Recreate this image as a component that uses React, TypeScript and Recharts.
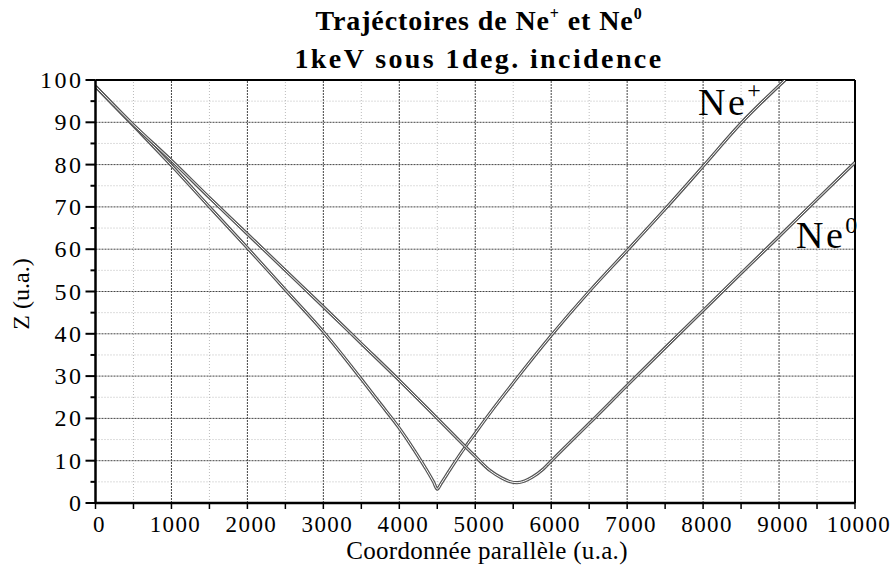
import React from "react";
import { LineChart, Line, XAxis, YAxis, ReferenceLine } from "recharts";

// Ne+ trajectory
const NE_PLUS_X = [0, 500, 1000, 1500, 2000, 2500, 3000, 3500, 3750, 4000, 4200, 4350, 4450, 4500, 4550, 4650, 4800, 5000, 5250, 5500, 6000, 6500, 7000, 7500, 8000, 8500, 9080];
const NE_PLUS_Z = [98.5, 89.2, 79.8, 70.0, 60.3, 50.4, 40.5, 29.3, 23.5, 17.7, 12.4, 8.1, 5.0, 3.3, 4.6, 7.4, 11.5, 16.5, 22.6, 28.4, 39.6, 50.0, 59.7, 69.5, 79.6, 89.8, 100];

// Ne0 trajectory
const NE_ZERO_X = [0, 500, 1000, 1500, 2000, 2500, 3000, 3500, 4000, 4500, 5000, 5200, 5350, 5450, 5550, 5650, 5750, 5900, 6000, 6250, 6500, 7000, 7500, 8000, 8500, 9000, 9500, 10000];
const NE_ZERO_Z = [98.5, 89.4, 81.0, 72.2, 63.6, 55.0, 46.4, 37.7, 29.0, 20.0, 11.0, 7.6, 5.9, 5.1, 4.8, 5.2, 6.1, 8.1, 9.9, 14.4, 18.8, 27.8, 36.7, 45.5, 54.3, 63.0, 71.8, 80.5];

const X_TICKS = [0, 500, 1000, 1500, 2000, 2500, 3000, 3500, 4000, 4500, 5000, 5500, 6000, 6500, 7000, 7500, 8000, 8500, 9000, 9500, 10000];
const Y_TICKS = [0, 5, 10, 15, 20, 25, 30, 35, 40, 45, 50, 55, 60, 65, 70, 75, 80, 85, 90, 95, 100];

const nePlus = NE_PLUS_X.map((x, i) => ({ x, z: NE_PLUS_Z[i] }));
const neZero = NE_ZERO_X.map((x, i) => ({ x, z: NE_ZERO_Z[i] }));

const FONT = '"Liberation Serif", "DejaVu Serif", serif';

const XTick = ({ x, y, payload }: any) => {
  const major = payload.value % 1000 === 0;
  return (
    <g>
      <line x1={x} y1={y} x2={x} y2={y + 6} stroke="#000" strokeWidth={1.5} />
      {major && (
        <text x={x + 4} y={y + 29} textAnchor="middle" style={{ fontSize: 23, fontFamily: FONT, letterSpacing: 1.4 }} fill="#000">
          {payload.value}
        </text>
      )}
    </g>
  );
};

const YTick = ({ x, y, payload }: any) => {
  const major = payload.value % 10 === 0;
  return (
    <g>
      <line x1={x} y1={y} x2={x - (major ? 10 : 5)} y2={y} stroke="#000" strokeWidth={2} />
      {major && (
        <text x={x - 12} y={y + 8} textAnchor="end" style={{ fontSize: 24, fontFamily: FONT, letterSpacing: 2.5 }} fill="#000">
          {payload.value}
        </text>
      )}
    </g>
  );
};

const supStyle = (size: number, top: number): React.CSSProperties => ({ fontSize: size, position: "relative", top, verticalAlign: "baseline" });

const App: React.FC = () => {
  return (
    <div style={{ position: "absolute", left: 0, top: 0, width: 892, height: 579, background: "#fff", fontFamily: FONT }}>
      <div style={{ position: "absolute", left: 0, width: 958, top: 4, textAlign: "center", fontWeight: "bold", fontSize: 28, lineHeight: "34px" }}>
        <div style={{ letterSpacing: 0.9 }}>
          Trajéctoires de Ne<span style={supStyle(16, -11)}>+</span> et Ne<span style={supStyle(16, -11)}>0</span>
        </div>
        <div style={{ letterSpacing: 2.4 }}>1keV sous 1deg. incidence</div>
      </div>
      <LineChart width={892} height={579} data={nePlus} margin={{ top: 80, right: 37, left: 35.5, bottom: 46 }}>
        {X_TICKS.filter((t) => t > 0 && t < 10000).map((t) =>
          t % 1000 === 0 ? (
            <ReferenceLine key={"vx" + t} x={t} stroke="#444" strokeDasharray="2 1" />
          ) : (
            <ReferenceLine key={"vx" + t} x={t} stroke="#bbb" strokeDasharray="1 2" />
          )
        )}
        {Y_TICKS.filter((t) => t > 0 && t < 100).map((t) =>
          t % 10 === 0 ? (
            <ReferenceLine key={"hy" + t} y={t} stroke="#444" strokeDasharray="2 1" />
          ) : (
            <ReferenceLine key={"hy" + t} y={t} stroke="#bbb" strokeDasharray="1 2" />
          )
        )}
        <ReferenceLine x={10000} stroke="#000" strokeWidth={2} />
        <ReferenceLine y={100} stroke="#000" strokeWidth={2} />
        <XAxis
          dataKey="x"
          type="number"
          domain={[0, 10000]}
          ticks={X_TICKS}
          interval={0}
          tickSize={0}
          tickMargin={0}
          tickLine={false}
          tick={<XTick />}
          axisLine={{ stroke: "#000", strokeWidth: 2.5 }}
          height={30}
          allowDataOverflow
        />
        <YAxis
          type="number"
          domain={[0, 100]}
          ticks={Y_TICKS}
          interval={0}
          tickSize={0}
          tickMargin={0}
          tickLine={false}
          tick={<YTick />}
          axisLine={{ stroke: "#000", strokeWidth: 2.5 }}
          width={60}
          allowDataOverflow
        />
        <Line data={nePlus} dataKey="z" type="monotone" stroke="#555" strokeWidth={3.2} dot={false} isAnimationActive={false} />
        <Line data={nePlus} dataKey="z" type="monotone" stroke="#fff" strokeWidth={1} dot={false} isAnimationActive={false} />
        <Line data={neZero} dataKey="z" type="monotone" stroke="#555" strokeWidth={3.2} dot={false} isAnimationActive={false} />
        <Line data={neZero} dataKey="z" type="monotone" stroke="#fff" strokeWidth={1} dot={false} isAnimationActive={false} />
      </LineChart>
      <div style={{ position: "absolute", left: 698, top: 80, fontSize: 38, lineHeight: "44px", letterSpacing: 2.5, whiteSpace: "nowrap" }}>
        Ne<span style={supStyle(24, -17)}>+</span>
      </div>
      <div style={{ position: "absolute", left: 796, top: 213, fontSize: 38, lineHeight: "44px", letterSpacing: 2.5, whiteSpace: "nowrap" }}>
        Ne<span style={supStyle(24, -15)}>0</span>
      </div>
      <div style={{ position: "absolute", left: 0, width: 974, top: 537, textAlign: "center", fontSize: 25, letterSpacing: 0.3 }}>
        Coordonnée parallèle (u.a.)
      </div>
      <div style={{ position: "absolute", left: 21, top: 294, fontSize: 24, whiteSpace: "nowrap", transform: "translate(-50%, -50%) rotate(-90deg)" }}>
        Z (u.a.)
      </div>
    </div>
  );
};

export default App;
